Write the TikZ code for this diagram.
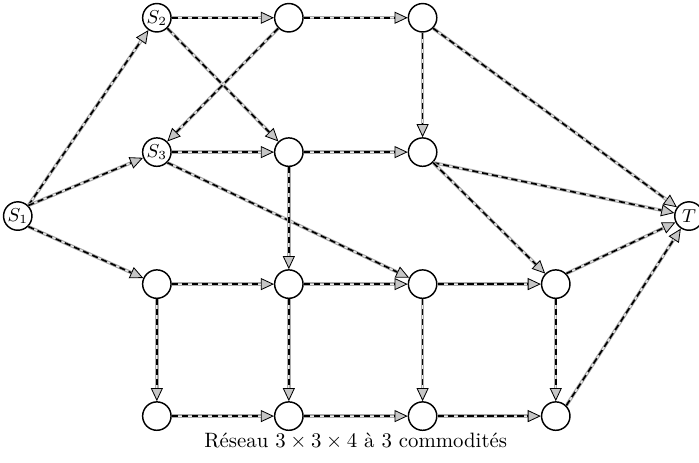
\documentclass[tikz,border=0pt]{standalone}
\usetikzlibrary{arrows.meta}
\tikzset{
  sommet/.style={circle, draw, line width=0.7pt, fill=white, minimum size=0.48cm, inner sep=0pt, font=\small},
  flux/.style={draw=gray!65, line width=1.6pt,
    -{Triangle[length=6.3pt, width=5.8pt, color=black, fill=gray!45, line width=0.4pt]},
    postaction={draw=gray!15, -, line width=0.5pt, shorten >=6.3pt},
    postaction={draw=black, -, line width=0.8pt, dash pattern=on 3pt off 1.8pt, shorten >=6.3pt}}
}
\begin{document}
\begin{tikzpicture}
  \useasboundingbox (-0.30,-4.17) rectangle (11.51,3.65);
  % les sources et le puits
  \node[sommet] (s1) at (0,0) {$S_1$};
  \node[sommet] (s2) at (2.35,3.35) {$S_2$};
  \node[sommet] (s3) at (2.35,1.08) {$S_3$};
  \node[sommet] (t) at (11.34,0) {$T$};
  % les autres sommets
  \node[sommet] (h2) at (4.58,3.35) {};
  \node[sommet] (h3) at (6.84,3.35) {};
  \node[sommet] (m2) at (4.58,1.08) {};
  \node[sommet] (m3) at (6.84,1.08) {};
  \node[sommet] (b1) at (2.35,-1.15) {};
  \node[sommet] (b2) at (4.58,-1.15) {};
  \node[sommet] (b3) at (6.84,-1.15) {};
  \node[sommet] (b4) at (9.09,-1.15) {};
  \node[sommet] (f1) at (2.35,-3.38) {};
  \node[sommet] (f2) at (4.58,-3.38) {};
  \node[sommet] (f3) at (6.84,-3.38) {};
  \node[sommet] (f4) at (9.09,-3.38) {};
  % les arcs du haut
  \draw[flux] (s1.north east) -- (s2); \draw[flux] (s1.north east) -- (s3);
  \draw[flux] (s1.south east) -- (b1);
  \draw[flux] (s2) -- (h2); \draw[flux] (s2.south east) -- (m2);
  \draw[flux] (h2) -- (h3); \draw[flux] (h2.south west) -- (s3);
  \draw[flux] (h3) -- (m3); \draw[flux] (h3.south east) -- (t);
  \draw[flux] (s3) -- (m2); \draw[flux] (s3.south east) -- (b3);
  \draw[flux] (m2) -- (m3); \draw[flux] (m2) -- (b2);
  \draw[flux] (m3.south east) -- (t); \draw[flux] (m3.south east) -- (b4);
  % la grille du bas
  \draw[flux] (b1) -- (b2); \draw[flux] (b2) -- (b3); \draw[flux] (b3) -- (b4);
  \draw[flux] (b1) -- (f1); \draw[flux] (b2) -- (f2); \draw[flux] (b3) -- (f3); \draw[flux] (b4) -- (f4);
  \draw[flux] (f1) -- (f2); \draw[flux] (f2) -- (f3); \draw[flux] (f3) -- (f4);
  \draw[flux] (b4.north east) -- (t); \draw[flux] (f4.north east) -- (t);
  % la légende
  \node (legende) at (5.71,-3.80) {Réseau $3\times3\times4$ à 3 commodités};
\end{tikzpicture}
\end{document}
